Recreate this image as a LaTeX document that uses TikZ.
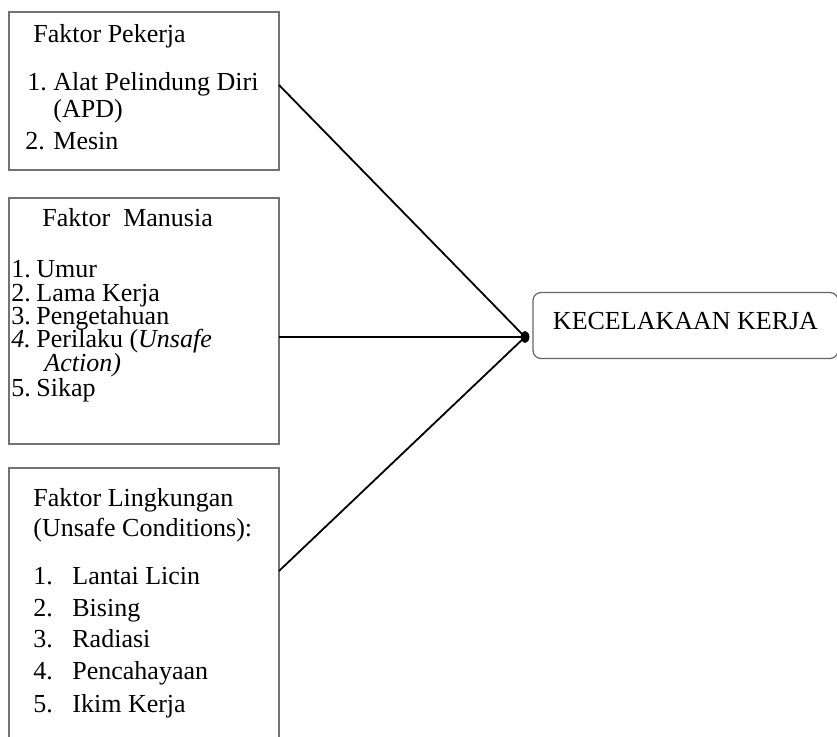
\documentclass[tikz,border=0pt]{standalone}
\usepackage{fontspec}
\setmainfont{Liberation Serif}
\begin{document}
\begin{tikzpicture}[x=0.5pt, y=-0.5pt,
		every node/.style={font=\fontsize{13pt}{12pt}\selectfont, inner sep=0pt},
		txt/.style={anchor=base west},
		kotak/.style={draw=black!55, line width=0.6pt},
		garis/.style={line width=0.9pt}]
		%%%%% START %%%%%
		\clip (0, 0) rectangle (837, 737);
		
		\draw[kotak] (9, 12) rectangle (279, 170);
		\node[txt] (pekerja-judul) at (33, 43) {Faktor Pekerja};
		\node[txt] (pekerja-n1) at (27, 91) {1.};
		\node[txt] (pekerja-1) at (53, 91) {Alat Pelindung Diri};
		\node[txt] (pekerja-1b) at (53, 118) {(APD)};
		\node[txt] (pekerja-n2) at (25, 150) {2.};
		\node[txt] (pekerja-2) at (53, 150) {Mesin};
		\coordinate (pekerja-keluar) at (279, 85);
		
		\draw[kotak] (9, 198) rectangle (279, 444);
		\node[txt] (manusia-judul) at (42, 227) {Faktor\ \ Manusia};
		\node[txt] (manusia-n1) at (11, 278) {1.};
		\node[txt] (manusia-1) at (36, 278) {Umur};
		\node[txt] (manusia-n2) at (11, 302) {2.};
		\node[txt] (manusia-2) at (36, 302) {Lama Kerja};
		\node[txt] (manusia-n3) at (11, 325) {3.};
		\node[txt] (manusia-3) at (36, 325) {Pengetahuan};
		\node[txt] (manusia-n4) at (11, 348) {\textit{4.}};
		\node[txt] (manusia-4) at (36, 348) {Perilaku (\textit{Unsafe}};
		\node[txt] (manusia-4b) at (44, 372) {\textit{Action)}};
		\node[txt] (manusia-n5) at (11, 397) {5.};
		\node[txt] (manusia-5) at (36, 397) {Sikap};
		\coordinate (manusia-keluar) at (279, 337);
		
		\draw[kotak] (9, 800) -- (9, 468) -- (279, 468) -- (279, 800);
		\node[txt] (lingkungan-judul) at (33, 507) {Faktor Lingkungan};
		\node[txt] (lingkungan-judul2) at (33, 537) {(Unsafe Conditions):};
		\node[txt] (lingkungan-n1) at (33, 585) {1.};
		\node[txt] (lingkungan-1) at (72, 585) {Lantai Licin};
		\node[txt] (lingkungan-n2) at (33, 617) {2.};
		\node[txt] (lingkungan-2) at (72, 617) {Bising};
		\node[txt] (lingkungan-n3) at (33, 648) {3.};
		\node[txt] (lingkungan-3) at (72, 648) {Radiasi};
		\node[txt] (lingkungan-n4) at (33, 680) {4.};
		\node[txt] (lingkungan-4) at (72, 680) {Pencahayaan};
		\node[txt] (lingkungan-n5) at (33, 713) {5.};
		\node[txt] (lingkungan-5) at (72, 713) {Ikim Kerja};
		\coordinate (lingkungan-keluar) at (279, 571);
		
		\node[draw=black!60, line width=0.6pt, rounded corners=4pt, minimum width=152.5pt,
			minimum height=33pt, text depth=4.5pt] (kecelakaan) at (685.5, 325.5) {KECELAKAAN KERJA};
		
		\coordinate (simpul) at (525, 337);
		\draw[garis] (pekerja-keluar) -- (simpul);
		\draw[garis] (manusia-keluar) -- (simpul);
		\draw[garis] (lingkungan-keluar) -- (simpul);
		\fill (simpul) ellipse (2.2pt and 3pt);
		%%%%% END %%%%%
\end{tikzpicture}
\end{document}
